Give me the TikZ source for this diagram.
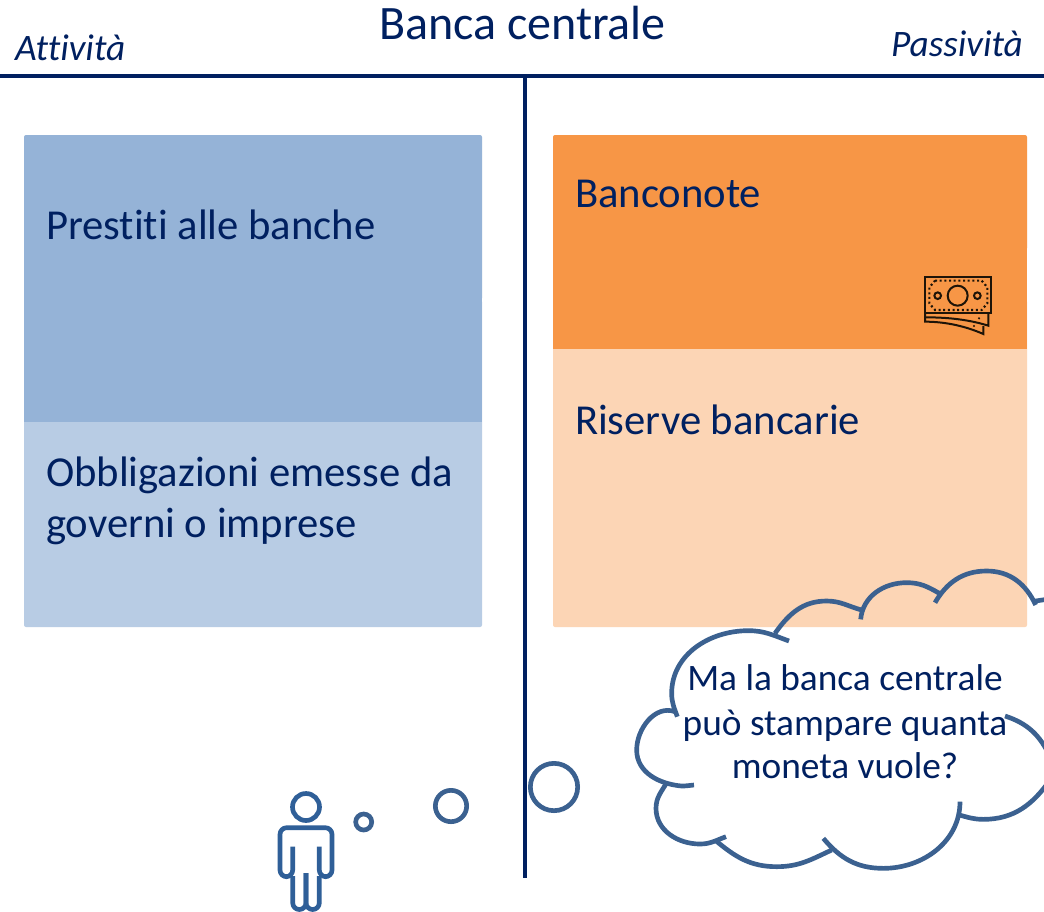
\documentclass[tikz,border=0pt]{standalone}
\usepackage{fontspec}
\setmainfont[Ligatures=NoCommon]{Carlito}
\definecolor{navy}{HTML}{002060}
\definecolor{cloudline}{HTML}{3B6190}
\definecolor{personblue}{HTML}{2F5F98}
\definecolor{blueA}{HTML}{95B3D7}
\definecolor{blueB}{HTML}{B8CCE4}
\definecolor{orangeA}{HTML}{F79646}
\definecolor{orangeB}{HTML}{FCD5B5}
\definecolor{iconink}{HTML}{1E1408}
\tikzset{
  lab/.style={inner sep=0pt,outer sep=0pt,text=navy,anchor=base west},
  body/.style={lab,font=\fontsize{32}{38}\selectfont},
  headtxt/.style={lab,font=\fontsize{36}{40}\selectfont},
  side/.style={lab,font=\itshape\fontsize{28}{32}\selectfont},
  cloudtxt/.style={lab,font=\fontsize{28}{33}\selectfont,align=center,anchor=base},
  rule/.style={draw=navy,line width=3pt},
  cloudarc/.style={draw=cloudline,line width=3.5pt},
  bubble/.style={draw=cloudline,line width=3.5pt,circle,inner sep=0pt,outer sep=0pt},
  person/.style={draw=personblue,line width=3.5pt,line join=round},
  note/.style={draw=iconink,line width=1.5pt}
}
\begin{document}
\begin{tikzpicture}[x=0.75pt,y=-0.75pt]
\useasboundingbox (0,0) rectangle (1044,911);
\clip (0,0) rectangle (1044,911);
\fill[white] (0,0) rectangle (1044,911);
% boxes
\fill[blueB,rounded corners=1.5pt] (24,300) rectangle (482,627);
\fill[blueA,rounded corners=1.5pt] (24,135) rectangle (482,300);
\fill[blueA] (24,200) rectangle (482,421.5);
\fill[orangeB,rounded corners=1.5pt] (553,300) rectangle (1027,627);
\fill[orangeA,rounded corners=1.5pt] (553,135) rectangle (1027,250);
\fill[orangeA] (553,200) rectangle (1027,348.5);
% rules
\coordinate (hl) at (0,76); \coordinate (hr) at (1044,76);
\coordinate (vt) at (524.5,76); \coordinate (vb) at (524.5,878);
\draw[rule] (hl) -- (hr);
\draw[rule] (vt) -- (vb);
% titles
\node[headtxt] (title) at (379,39) {Banca centrale};
\node[side] (att) at (15,60) {Attività};
\node[side] (pas) at (891,56) {Passività};
% box labels
\node[body] (prestiti) at (46,239) {Prestiti alle banche};
\node[body] (obb1) at (46,486) {Obbligazioni emesse da};
\node[body] (obb2) at (46,537) {governi o imprese};
\node[body] (banconote) at (575,207) {Banconote};
\node[body] (riserve) at (575,434) {Riserve bancarie};
% cloud
\begin{scope}[shift={(620,560)},x=0.25pt,y=-0.25pt]
\draw[cloudarc] (507,243) to[out=160,in=0] (385,212) to[out=180,in=90] (155,400) to[out=-90,in=110] (172,470);
\draw[cloudarc] (165,455) to[out=160,in=90] (50,570) to[out=-90,in=175] (185,678) to[out=0,in=185] (222,675);
\draw[cloudarc] (140,668) to[out=-120,in=90] (108,745) to[out=-90,in=180] (240,852) to[out=0,in=200] (318,830);
\draw[cloudarc] (285,840) to[out=-40,in=180] (470,920) to[out=0,in=205] (635,870);
\draw[cloudarc] (610,835) to[out=-50,in=180] (790,925) to[out=0,in=-90] (1020,725);
\draw[cloudarc] (1018,765) to[out=-15,in=180] (1090,778) to[out=0,in=-125] (1290,660);
\draw[cloudarc] (1155,468) to[out=-18,in=115] (1290,590);
\draw[cloudarc] (465,220) to[out=55,in=180] (620,123) to[out=0,in=165] (725,150);
\draw[cloudarc] (722,178) to[out=85,in=180] (860,68) to[out=0,in=150] (958,100);
\draw[cloudarc] (945,128) to[out=60,in=180] (1100,33) to[out=0,in=115] (1247,135);
\draw[cloudarc] (1240,124) -- (1280,118);
\end{scope}
\node[cloudtxt] (q1) at (845,690) {Ma la banca centrale};
\node[cloudtxt] (q2) at (845,735) {può stampare quanta};
\node[cloudtxt] (q3) at (845,778) {moneta vuole?};
% bubbles
\node[bubble,minimum size=35.5pt] (b3) at (554,787) {};
\node[bubble,minimum size=23.5pt] (b2) at (451,806) {};
\node[bubble,minimum size=12pt] (b1) at (363.7,822) {};
% person
\draw[person] (306,807) circle (13.5);
\draw[person,rounded corners=5pt] (292.7,846.7) -- (292.7,876.7) -- (280,876.7) -- (280,827.7) -- (332,827.7) -- (332,876.7) -- (319.3,876.7) -- (319.3,846.7);
\draw[person,rounded corners=5pt] (292.7,876) -- (292.7,909.5) -- (306,909.5) -- (306,873);
\draw[person,rounded corners=5pt] (306,873) -- (306,909.5) -- (319.3,909.5) -- (319.3,876);
% banknote
\begin{scope}[shift={(900,260)},x=0.25pt,y=-0.25pt]
\draw[note] (75,50) rectangle (272,160);
\draw[note,dotted,line width=1.6pt] (105,62) -- (245,62) -- (262,82) -- (262,130) -- (245,150) -- (105,150) -- (88,130) -- (88,82) -- cycle;
\draw[note] (173,107) circle (30);
\draw[note] (113,107) circle (10);
\draw[note] (232,107) circle (10);
\draw[note] (75,160) -- (75,185) .. controls (140,185) and (200,200) .. (250,222) -- (250,198);
\draw[note] (78,172) .. controls (150,172) and (210,180) .. (265,197) -- (265,160);
\fill[iconink] (237,175) circle (3.5) (222,198) circle (3.5);
\end{scope}
\end{tikzpicture}
\end{document}
